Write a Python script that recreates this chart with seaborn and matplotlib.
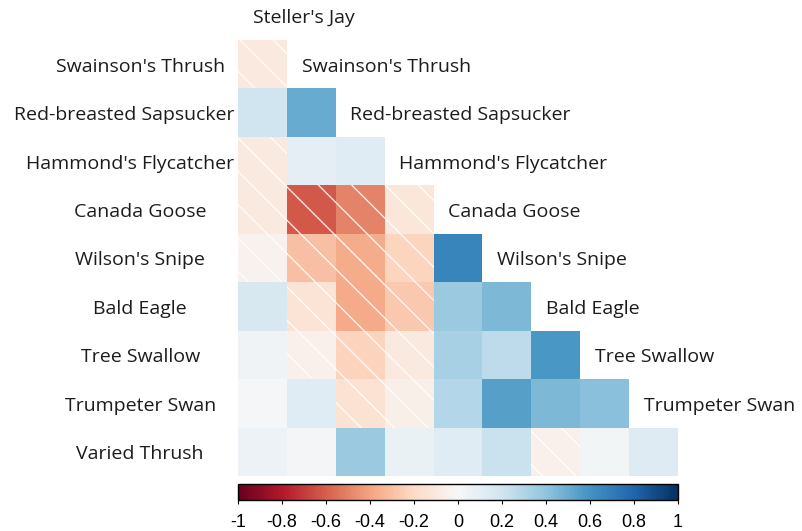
import numpy as np
import pandas as pd
import seaborn as sns
import matplotlib.pyplot as plt
from matplotlib.patches import Rectangle

species = ["Steller's Jay", "Swainson's Thrush", "Red-breasted Sapsucker",
           "Hammond's Flycatcher", "Canada Goose", "Wilson's Snipe",
           "Bald Eagle", "Tree Swallow", "Trumpeter Swan", "Varied Thrush"]

# lower-triangle correlations, one list per row (row species vs. earlier species)
r_swainsons_thrush = [-0.10]
r_red_breasted_sapsucker = [0.20, 0.50]
r_hammonds_flycatcher = [-0.10, 0.10, 0.12]
r_canada_goose = [-0.10, -0.62, -0.50, -0.12]
r_wilsons_snipe = [-0.04, -0.30, -0.37, -0.22, 0.66]
r_bald_eagle = [0.17, -0.14, -0.38, -0.27, 0.37, 0.45]
r_tree_swallow = [0.04, -0.05, -0.23, -0.10, 0.33, 0.26, 0.58]
r_trumpeter_swan = [0.01, 0.12, -0.15, -0.06, 0.29, 0.55, 0.45, 0.42]
r_varied_thrush = [0.06, 0.02, 0.37, 0.07, 0.12, 0.22, -0.05, 0.03, 0.13]

rows = [r_swainsons_thrush, r_red_breasted_sapsucker, r_hammonds_flycatcher,
        r_canada_goose, r_wilsons_snipe, r_bald_eagle, r_tree_swallow,
        r_trumpeter_swan, r_varied_thrush]

cbar_ticks = [-1, -0.8, -0.6, -0.4, -0.2, 0, 0.2, 0.4, 0.6, 0.8, 1]
cbar_labels = ["-1", "-0.8", "-0.6", "-0.4", "-0.2", "0", "0.2", "0.4", "0.6", "0.8", "1"]

n = len(rows)
mat = np.full((n, n), np.nan)
for i, r in enumerate(rows):
    mat[i, :len(r)] = r
df = pd.DataFrame(mat, index=species[1:], columns=species[:-1])

sns.set_style("white")
plt.rcParams['font.family'] = ['Open Sans', 'DejaVu Sans']
plt.rcParams['hatch.color'] = 'white'
plt.rcParams['hatch.linewidth'] = 1.0

W, H = 802, 531
fig = plt.figure(figsize=(W / 100, H / 100), dpi=100)
ax = fig.add_axes([238 / W, 1 - 476 / H, 440 / W, 436 / H])
cax = fig.add_axes([238 / W, 1 - 500 / H, 440 / W, 16 / H])

sns.heatmap(df, ax=ax, cmap='RdBu', vmin=-1, vmax=1, mask=np.isnan(mat),
            cbar=True, cbar_ax=cax, cbar_kws={'orientation': 'horizontal', 'ticks': cbar_ticks},
            xticklabels=False, yticklabels=False, square=False)

# hatch on negative cells
for i in range(n):
    for j in range(n):
        v = mat[i, j]
        if not np.isnan(v) and v < 0:
            ax.add_patch(Rectangle((j, i), 1, 1, fill=False, hatch='\\',
                                   edgecolor='white', linewidth=0, alpha=0.85))

ax.set_xticks([])
ax.set_yticks([])
for s in ax.spines.values():
    s.set_visible(False)

txt_color = '#1c1c1c'
fig.canvas.draw()
renderer = fig.canvas.get_renderer()
ax_left_px = ax.get_window_extent(renderer).x0
cell_px = ax.get_window_extent(renderer).width / n

# row labels on the left (centred, but kept clear of the grid)
for i, name in enumerate(species[1:]):
    t = ax.text(-2.0, i + 0.55, name, ha='center', va='center', fontsize=14,
                color=txt_color, clip_on=False)
    bb = t.get_window_extent(renderer)
    overlap = bb.x1 - (ax_left_px - 4)
    if overlap > 0:
        t.set_x(-2.0 - overlap / cell_px)

# diagonal labels
for j, name in enumerate(species[:-1]):
    ax.text(j + 0.3, j - 0.45, name, ha='left', va='center', fontsize=14,
            color=txt_color, clip_on=False)

cax.set_xticklabels(cbar_labels, family=['Liberation Sans'], fontsize=13)
cax.tick_params(axis='x', length=3, width=0.8, pad=7, colors='black')
cbar = ax.collections[0].colorbar
cbar.outline.set_edgecolor('black')
cbar.outline.set_linewidth(1.0)

fig.savefig('out.png', dpi=100)
